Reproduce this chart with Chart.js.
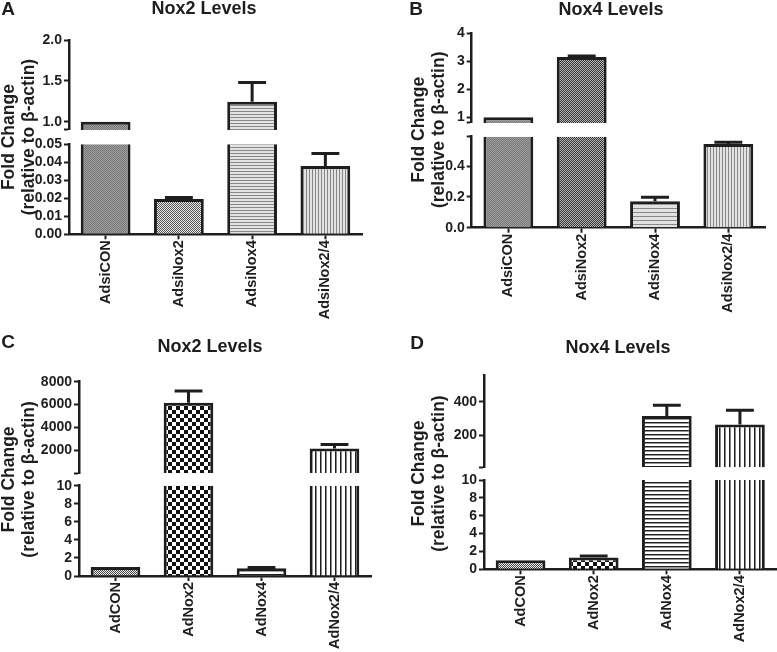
<!DOCTYPE html>
<html>
<head>
<meta charset="utf-8">
<script src="https://cdn.jsdelivr.net/npm/chart.js@4.4.1/dist/chart.umd.min.js"></script>
<style>
  body { margin: 0; width: 777px; height: 652px; position: relative; overflow: hidden; background: #fff;
         font-family: "Liberation Sans", Arial, sans-serif; color: #1e1e1e; }
  canvas { position: absolute; }
  .lbl { position: absolute; font-weight: bold; line-height: 1; white-space: nowrap; transform: translate(-50%, -50%); }
  .letter { font-size: 19px; }
  .ttl { font-size: 18px; }
</style>
</head>
<body>
<canvas id="panelA" width="388" height="326" style="left:0;top:0"></canvas>
<canvas id="panelB" width="388" height="326" style="left:389px;top:0"></canvas>
<canvas id="panelC" width="388" height="326" style="left:0;top:326px"></canvas>
<canvas id="panelD" width="388" height="326" style="left:389px;top:326px"></canvas>

<div class="lbl letter" style="left:8px;top:8px">A</div>
<div class="lbl ttl" style="left:204px;top:8px">Nox2 Levels</div>
<div class="lbl letter" style="left:416px;top:8px">B</div>
<div class="lbl ttl" style="left:611px;top:9px">Nox4 Levels</div>
<div class="lbl letter" style="left:8px;top:341px">C</div>
<div class="lbl ttl" style="left:210px;top:346px">Nox2 Levels</div>
<div class="lbl letter" style="left:417px;top:342px">D</div>
<div class="lbl ttl" style="left:618px;top:347px">Nox4 Levels</div>

<script>
const siCategories = ['AdsiCON', 'AdsiNox2', 'AdsiNox4', 'AdsiNox2/4'];
const adCategories = ['AdCON', 'AdNox2', 'AdNox4', 'AdNox2/4'];
const yTitle = ['Fold Change', '(relative to β-actin)'];

// A - Nox2 levels, siRNA
const aValues = [1.0, 0.0196, 1.245, 0.038];
const aErrors = [0, 0.0009, 0.235, 0.0069];
const aLowRange = [0, 0.05];
const aLowTicks = [0, 0.01, 0.02, 0.03, 0.04, 0.05];
const aLowLabels = ['0.00', '0.01', '0.02', '0.03', '0.04', '0.05'];
const aHighRange = [0.9, 2.0];
const aHighTicks = [0.9, 1.0, 1.5, 2.0];
const aHighLabels = ['', '1.0', '1.5', '2.0'];

// B - Nox4 levels, siRNA
const bValues = [1.0, 3.15, 0.171, 0.543];
const bErrors = [0, 0.04, 0.027, 0.011];
const bLowRange = [0, 0.59];
const bLowTicks = [0, 0.2, 0.4, 0.59];
const bLowLabels = ['0.0', '0.2', '0.4', ''];
const bHighRange = [0.8, 4];
const bHighTicks = [0.8, 1, 2, 3, 4];
const bHighLabels = ['', '1', '2', '3', '4'];

// C - Nox2 levels, overexpression
const cValues = [1.0, 6150, 0.85, 2150];
const cErrors = [0, 1030, 0.08, 360];
const cLowRange = [0, 10];
const cLowTicks = [0, 2, 4, 6, 8, 10];
const cLowLabels = ['0', '2', '4', '6', '8', '10'];
const cHighRange = [10, 8000];
const cHighTicks = [10, 2000, 4000, 6000, 8000];
const cHighLabels = ['', '2000', '4000', '6000', '8000'];

// D - Nox4 levels, overexpression
const dValues = [1.0, 1.32, 315, 265];
const dErrors = [0, 0.17, 65, 84];
const dLowRange = [0, 10];
const dLowTicks = [0, 2, 4, 6, 8, 10];
const dLowLabels = ['0', '2', '4', '6', '8', '10'];
const dHighRange = [10, 560];
const dHighTicks = [10, 200, 400];
const dHighLabels = ['', '200', '400'];

const INK = '#1e1e1e';
const FONT = '"Liberation Sans", Arial, sans-serif';

// small bitmap tiles used as bar fills
function makeFill(canvas, kind) {
  const t = document.createElement('canvas');
  const g = t.getContext('2d');
  const px = (x, y, c) => { g.fillStyle = c; g.fillRect(x, y, 1, 1); };
  if (kind === 'gray' || kind === 'dots' || kind === 'dotsDark' || kind === 'dotsFine') {
    const pair = { gray: ['#7a7a7a', '#9c9c9c'], dots: ['#555', '#eaeaea'],
                   dotsDark: ['#333', '#b8b8b8'], dotsFine: ['#444', '#f0f0f0'] }[kind];
    t.width = t.height = 2;
    px(0, 0, pair[0]); px(1, 1, pair[0]); px(1, 0, pair[1]); px(0, 1, pair[1]);
  } else if (kind === 'checker') {
    t.width = t.height = 8;
    g.fillStyle = '#fff'; g.fillRect(0, 0, 8, 8);
    g.fillStyle = '#111'; g.fillRect(0, 0, 4, 4); g.fillRect(4, 4, 4, 4);
  } else if (kind === 'hGray' || kind === 'hGray4') {
    const n = kind === 'hGray' ? 3 : 4;
    t.width = 1; t.height = n;
    g.fillStyle = '#e2e2e2'; g.fillRect(0, 0, 1, n);
    px(0, 0, '#888');
  } else if (kind === 'vGray') {
    t.width = 3; t.height = 1;
    g.fillStyle = '#e2e2e2'; g.fillRect(0, 0, 3, 1);
    px(0, 0, '#888');
  } else if (kind === 'hBlack') {
    t.width = 1; t.height = 4;
    g.fillStyle = '#fff'; g.fillRect(0, 0, 1, 4);
    px(0, 0, '#1e1e1e'); px(0, 1, '#999');
  } else if (kind === 'vBlack') {
    t.width = 5; t.height = 1;
    g.fillStyle = '#fff'; g.fillRect(0, 0, 5, 1);
    px(0, 0, '#1e1e1e'); px(1, 0, '#888');
  }
  return canvas.getContext('2d').createPattern(t, 'repeat');
}

// clip each dataset to its own axis segment and add the upper error bars
const segmentPlugin = {
  id: 'segments',
  beforeDatasetDraw(chart, args) {
    const ys = args.meta.yScale;
    chart.ctx.save();
    chart.ctx.beginPath();
    chart.ctx.rect(0, ys.top, chart.width, ys.bottom - ys.top);
    chart.ctx.clip();
  },
  afterDatasetDraw(chart, args) {
    const ctx = chart.ctx;
    const ys = args.meta.yScale;
    const ds = chart.data.datasets[args.index];
    args.meta.data.forEach((bar, i) => {
      const err = ds.errors[i];
      const v = ds.data[i];
      if (!err || v + err < ys.min || v > ys.max) return;
      const yTop = ys.getPixelForValue(v + err);
      const half = bar.width * 0.28;
      ctx.strokeStyle = INK;
      ctx.lineWidth = 3;
      ctx.beginPath();
      ctx.moveTo(bar.x, bar.y);
      ctx.lineTo(bar.x, yTop);
      ctx.moveTo(bar.x - half, yTop);
      ctx.lineTo(bar.x + half, yTop);
      ctx.stroke();
    });
    ctx.restore();
  }
};

function segmentAxis(range, ticks, labels, h, order, width) {
  return {
    type: 'linear', position: 'left', stack: 'fold', stackWeight: h, weight: order,
    min: range[0], max: range[1],
    afterBuildTicks: s => { s.ticks = ticks.map(v => ({ value: v })); },
    afterFit: s => { s.width = width; },
    ticks: { callback: (v, i) => labels[i], autoSkip: false, padding: 2, color: INK,
             font: { family: FONT, size: 14, weight: 'bold' } },
    grid: { display: true, drawOnChartArea: false, tickLength: 5, tickWidth: 2, tickColor: INK },
    border: { display: true, color: INK, width: 2.5 }
  };
}

function drawPanel(id, p) {
  const canvas = document.getElementById(id);
  const g = p.geom;
  const width = g.left - g.padLeft;
  const fills = p.fills.map(k => makeFill(canvas, k));
  const bar = {
    grouped: false, barPercentage: 0.68, categoryPercentage: 1,
    backgroundColor: fills, borderColor: INK, borderWidth: 3, borderSkipped: 'start'
  };
  new Chart(canvas, {
    type: 'bar',
    data: {
      labels: p.categories,
      datasets: [
        Object.assign({ yAxisID: 'yLow', data: p.values, errors: p.errors }, bar),
        Object.assign({ yAxisID: 'yHigh', data: p.values, errors: p.errors }, bar)
      ]
    },
    options: {
      responsive: false,
      animation: false,
      devicePixelRatio: 1,
      layout: { padding: { left: g.padLeft, top: g.top, right: 388 - g.right, bottom: 0 } },
      plugins: { legend: { display: false }, tooltip: { enabled: false } },
      scales: {
        x: {
          type: 'category', offset: true, z: 1,
          afterFit: s => { s.height = 326 - g.bottom; },
          grid: { display: true, offset: false, drawOnChartArea: false, tickLength: 5, tickWidth: 2, tickColor: INK },
          border: { color: INK, width: 2.5 },
          ticks: { minRotation: 90, maxRotation: 90, autoSkip: false, padding: 1, color: INK,
                   font: { family: FONT, size: 14.5, weight: 'bold' } }
        },
        yHigh: segmentAxis(p.highRange, p.highTicks, p.highLabels, g.upperH, 3, width),
        yGap: {
          type: 'linear', position: 'left', stack: 'fold', stackWeight: g.gapH, weight: 2,
          min: 0, max: 1,
          afterFit: s => { s.width = width; },
          ticks: { display: false }, grid: { display: false }, border: { display: false },
          title: { display: true, text: yTitle, color: INK, padding: { top: -1, bottom: 0 },
                   font: { family: FONT, size: 17.5, weight: 'bold', lineHeight: 1.15 } }
        },
        yLow: segmentAxis(p.lowRange, p.lowTicks, p.lowLabels, g.lowerH, 1, width)
      }
    },
    plugins: [segmentPlugin]
  });
}

drawPanel('panelA', {
  categories: siCategories, values: aValues, errors: aErrors,
  lowRange: aLowRange, lowTicks: aLowTicks, lowLabels: aLowLabels,
  highRange: aHighRange, highTicks: aHighTicks, highLabels: aHighLabels,
  fills: ['gray', 'dots', 'hGray', 'vGray'],
  geom: { padLeft: 0, left: 69, right: 362, top: 40, bottom: 234.3, upperH: 89.9, gapH: 14.4, lowerH: 90 }
});
drawPanel('panelB', {
  categories: siCategories, values: bValues, errors: bErrors,
  lowRange: bLowRange, lowTicks: bLowTicks, lowLabels: bLowLabels,
  highRange: bHighRange, highTicks: bHighTicks, highLabels: bHighLabels,
  fills: ['gray', 'dotsDark', 'hGray4', 'vGray'],
  geom: { padLeft: 21, left: 82.7, right: 376, top: 33.3, bottom: 227.7, upperH: 89.6, gapH: 13.8, lowerH: 91 }
});
drawPanel('panelC', {
  categories: adCategories, values: cValues, errors: cErrors,
  lowRange: cLowRange, lowTicks: cLowTicks, lowLabels: cLowLabels,
  highRange: cHighRange, highTicks: cHighTicks, highLabels: cHighLabels,
  fills: ['dotsFine', 'checker', 'hBlack', 'vBlack'],
  geom: { padLeft: 0, left: 79, right: 371, top: 55.7, bottom: 250, upperH: 91.4, gapH: 12.6, lowerH: 90.3 }
});
drawPanel('panelD', {
  categories: adCategories, values: dValues, errors: dErrors,
  lowRange: dLowRange, lowTicks: dLowTicks, lowLabels: dLowLabels,
  highRange: dHighRange, highTicks: dHighTicks, highLabels: dHighLabels,
  fills: ['dotsFine', 'checker', 'hBlack', 'vBlack'],
  geom: { padLeft: 21, left: 95, right: 387.5, top: 49, bottom: 243.3, upperH: 92.2, gapH: 12.8, lowerH: 89.3 }
});
</script>
</body>
</html>
